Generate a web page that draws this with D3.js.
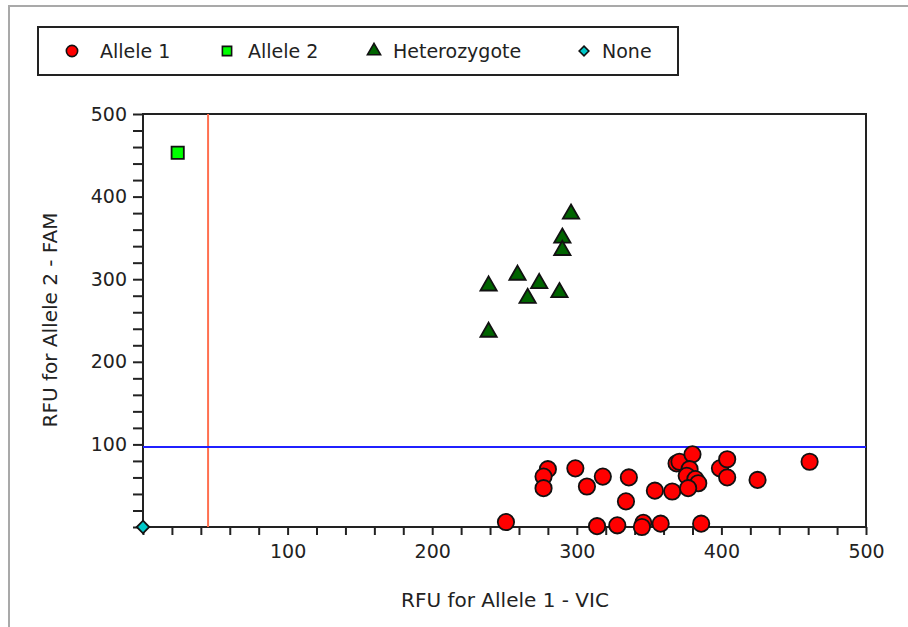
<!DOCTYPE html>
<html>
<head>
<meta charset="utf-8">
<script src="https://cdn.jsdelivr.net/npm/d3@7"></script>
<style>
	body { margin: 0; background: #fff; }
	text { font-family: "DejaVu Sans", sans-serif; fill: #222; }
</style>
</head>
<body>
<div id="chart"></div>
<script>
// RFU values
var allele1 = [
	[251, 6], [280, 70], [277, 61], [277, 47], [299, 71], [307, 49], [318, 61],
	[336, 60], [334, 31], [354, 44], [314, 1], [328, 2], [346, 5], [345, 0],
	[358, 4], [386, 4], [366, 43], [369, 77], [371, 79], [380, 88], [378, 70],
	[376, 62], [382, 58], [384, 53], [377, 47], [399, 71], [404, 82], [404, 60],
	[425, 57], [461, 79]
];
var allele2 = [[24, 453]];
var hetero = [
	[239, 292], [239, 236], [259, 305], [274, 295], [266, 277], [288, 284],
	[290, 350], [290, 335], [296, 379]
];
var none = [[0, 0]];

var xTicks = [100, 200, 300, 400, 500];
var yTicks = [100, 200, 300, 400, 500];
var thresholdX = 45;
var thresholdY = 97;

var legendItems = ['Allele 1', 'Allele 2', 'Heterozygote', 'None'];

(function() {
	var width = 908, height = 627;
	var left = 143, right = 866, top = 114, bottom = 527;

	var svg = d3.select('#chart').append('svg')
		.attr('width', width)
		.attr('height', height);

	// outer frame (only top and left edges show)
	svg.append('path')
		.attr('d', 'M9,' + height + 'V6H' + width)
		.attr('fill', 'none')
		.attr('stroke', '#a9a9a9')
		.attr('stroke-width', 2);

	var x = d3.scaleLinear().domain([0, 500]).range([left, right]);
	var y = d3.scaleLinear().domain([0, 500]).range([bottom, top]);

	// minor ticks every 20
	var xAxis = d3.axisBottom(x).tickValues(d3.range(0, 501, 20))
		.tickSize(8)
		.tickFormat(function(d) { return xTicks.indexOf(d) >= 0 ? d : ''; });
	var yAxis = d3.axisLeft(y).tickValues(d3.range(0, 501, 20))
		.tickSize(10)
		.tickFormat(function(d) { return yTicks.indexOf(d) >= 0 ? d : ''; });

	var gx = svg.append('g').attr('transform', 'translate(0,' + bottom + ')').call(xAxis);
	var gy = svg.append('g').attr('transform', 'translate(' + left + ',0)').call(yAxis);

	[gx, gy].forEach(function(g) {
		g.selectAll('path.domain').remove();
		g.selectAll('line').attr('stroke', '#222').attr('stroke-width', 2);
		g.selectAll('text').style('font-size', '19px').attr('fill', '#222')
			.style('font-family', '"DejaVu Sans", sans-serif');
	});
	gx.selectAll('text').attr('dy', '1.05em');
	gy.selectAll('text').attr('dx', '-3px');

	// plot box
	svg.append('rect')
		.attr('x', left).attr('y', top)
		.attr('width', right - left).attr('height', bottom - top)
		.attr('fill', 'none')
		.attr('stroke', '#222')
		.attr('stroke-width', 2);

	// threshold lines
	svg.append('line')
		.attr('x1', x(thresholdX)).attr('x2', x(thresholdX))
		.attr('y1', top).attr('y2', bottom)
		.attr('stroke', '#ff7050').attr('stroke-width', 2);
	svg.append('line')
		.attr('x1', left).attr('x2', right)
		.attr('y1', y(thresholdY)).attr('y2', y(thresholdY))
		.attr('stroke', '#2020ff').attr('stroke-width', 2);

	var symbols = [
		{ type: d3.symbolCircle, size: 210, fill: '#ff0000', data: allele1 },
		{ type: d3.symbolSquare, size: 150, fill: '#00ff00', data: allele2 },
		{ type: d3.symbolTriangle, size: 115, fill: '#006400', data: hetero },
		{ type: d3.symbolDiamond2, size: 100, fill: '#00c8c8', data: none }
	];

	symbols.forEach(function(s) {
		svg.append('g').selectAll('path')
			.data(s.data)
			.enter().append('path')
				.attr('d', d3.symbol().type(s.type).size(s.size))
				.attr('transform', function(d) { return 'translate(' + x(d[0]) + ',' + y(d[1]) + ')'; })
				.attr('fill', s.fill)
				.attr('stroke', '#111')
				.attr('stroke-width', 1.8);
	});

	// legend
	var legend = svg.append('g');
	legend.append('rect')
		.attr('x', 38).attr('y', 27)
		.attr('width', 640).attr('height', 48)
		.attr('fill', '#fff')
		.attr('stroke', '#222')
		.attr('stroke-width', 2);

	var lx = [72, 227, 374, 584];
	var tx = [100, 248, 393, 602];
	var lsize = [100, 85, 75, 60];
	legendItems.forEach(function(name, i) {
		legend.append('path')
			.attr('d', d3.symbol().type(symbols[i].type).size(lsize[i]))
			.attr('transform', 'translate(' + lx[i] + ',51)')
			.attr('fill', symbols[i].fill)
			.attr('stroke', '#111')
			.attr('stroke-width', 1.6);
		legend.append('text')
			.attr('x', tx[i])
			.attr('y', 58)
			.style('font-size', '19px')
			.text(name);
	});

	// axis titles
	svg.append('text')
		.attr('x', 505).attr('y', 607)
		.attr('text-anchor', 'middle')
		.style('font-size', '20px')
		.text('RFU for Allele 1 - VIC');
	svg.append('text')
		.attr('transform', 'translate(57,320) rotate(-90)')
		.attr('text-anchor', 'middle')
		.style('font-size', '20px')
		.text('RFU for Allele 2 - FAM');
})();
</script>
</body>
</html>
